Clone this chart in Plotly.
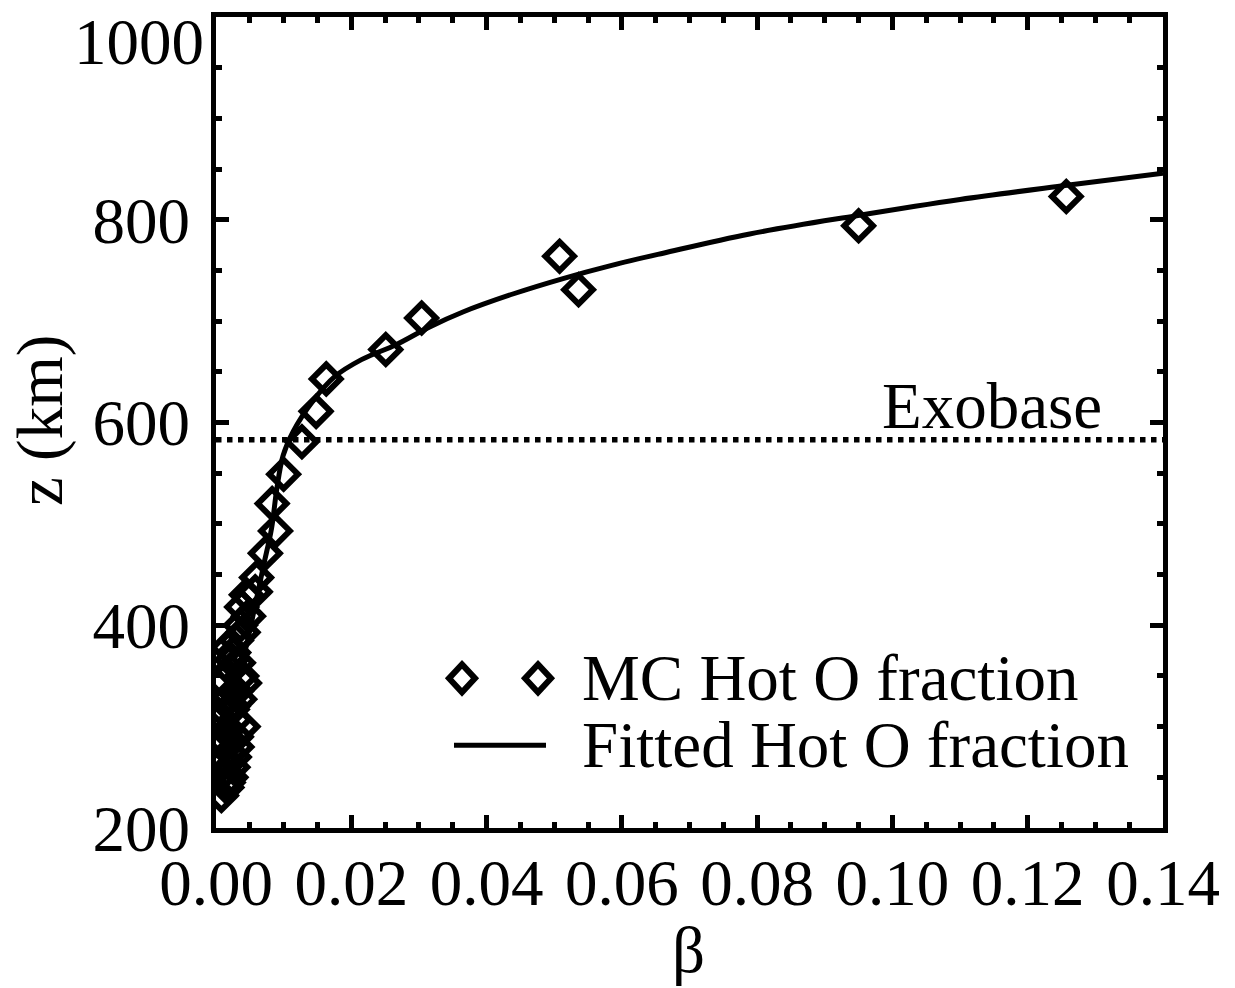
import plotly.graph_objects as go

# ---------------- data ----------------
MC_BETA = [0.0008, 0.0016, 0.0022, 0.0012, 0.0025, 0.0010, 0.0027, 0.0031, 0.0012, 0.0030,
           0.0040, 0.0028, 0.0005, 0.0013, 0.0025, 0.0035, 0.0030, 0.0042, 0.0010, 0.0038,
           0.0021, 0.0023, 0.0026, 0.0030, 0.0040, 0.0036, 0.0048, 0.0038, 0.0045, 0.0058,
           0.0060, 0.0073, 0.0088, 0.0083, 0.0100, 0.0127, 0.0148, 0.0163, 0.0251, 0.0304,
           0.0536, 0.0508, 0.0950, 0.1257,
           0.0018, 0.0020, 0.0015, 0.0024, 0.0019, 0.0033, 0.0017]
MC_Z = [232, 240, 250, 255, 260, 265, 270, 280, 285, 290,
        300, 307, 310, 314, 320, 327, 335, 343, 345, 350,
        356, 366, 373, 385, 393, 400, 409, 418, 430, 433,
        447, 471, 493, 520, 549, 581, 611, 643, 672, 703,
        731, 764, 794, 823,
        245, 275, 295, 317, 330, 363, 378]

FIT_BETA = [0.0010, 0.0014, 0.0020, 0.0030, 0.0045, 0.0058, 0.0070, 0.0082, 0.0090, 0.0099,
            0.0114, 0.0143, 0.0175, 0.0215, 0.0267, 0.0315, 0.0365, 0.0440, 0.0513, 0.0585,
            0.0661, 0.0789, 0.0947, 0.1100, 0.1258, 0.1400]
FIT_Z = [232, 260, 300, 340, 380, 420, 458, 495, 535, 567,
         591, 621, 645, 662, 677, 694, 709, 727, 742, 755,
         767, 786, 804, 820, 834, 846]

EXOBASE_Z = 583
X_RANGE = [0.0, 0.14]
Y_RANGE = [200, 1000]
X_TICKS = [0.00, 0.02, 0.04, 0.06, 0.08, 0.10, 0.12, 0.14]
X_TICKTEXT = ["0.00", "0.02", "0.04", "0.06", "0.08", "0.10", "0.12", "0.14"]
Y_TICKS = [200, 400, 600, 800, 1000]
Y_TICKTEXT = ["200", "400", "600", "800", "1000"]

LEGEND_LABELS = ["MC Hot O fraction", "Fitted Hot O fraction"]

# ---------------- figure ----------------
FONT = "Liberation Serif"
FS = 65
W, H = 1235, 988
ML, MR, MT, MB = 216, 72, 15, 160
PW, PH = W - ML - MR, H - MT - MB


def px_to_paper(px, py):
    return (px - ML) / PW, (H - MB - py) / PH


fig = go.Figure()

fig.add_trace(go.Scatter(
    x=[X_RANGE[0], X_RANGE[1]], y=[EXOBASE_Z, EXOBASE_Z], mode="lines",
    line=dict(color="black", width=5.5, dash="dot"), showlegend=False, hoverinfo="skip"))

fig.add_trace(go.Scatter(
    x=FIT_BETA, y=FIT_Z, mode="lines",
    line=dict(color="black", width=5, shape="spline", smoothing=1.0),
    name=LEGEND_LABELS[1], showlegend=False))

fig.add_trace(go.Scatter(
    x=MC_BETA, y=MC_Z, mode="markers",
    marker=dict(symbol="diamond-open", size=22, color="black", line=dict(width=6, color="black")),
    name=LEGEND_LABELS[0], showlegend=False))

axis_common = dict(
    showline=True, linecolor="black", linewidth=5, mirror="allticks",
    ticks="inside", tickcolor="black", tickwidth=5, ticklen=13,
    showgrid=False, zeroline=False,
    tickfont=dict(family=FONT, size=FS, color="black"),
)

# the top y label sits below its tick in the reference; draw it as an annotation
y_ticktext_axis = [t if v != Y_RANGE[1] else "" for v, t in zip(Y_TICKS, Y_TICKTEXT)]

fig.update_xaxes(range=X_RANGE, tickmode="array", tickvals=X_TICKS, ticktext=X_TICKTEXT,
                 minor=dict(dtick=0.005, ticks="inside", ticklen=6, tickwidth=5, tickcolor="black"),
                 ticklabelstandoff=-6,
                 **axis_common)
fig.update_yaxes(range=Y_RANGE, tickmode="array", tickvals=Y_TICKS, ticktext=y_ticktext_axis,
                 minor=dict(dtick=50, ticks="inside", ticklen=6, tickwidth=5, tickcolor="black"),
                 ticklabelstandoff=8,
                 **axis_common)

annotations = []
tx, ty = px_to_paper(206, 40)
annotations.append(dict(text=Y_TICKTEXT[-1], x=tx, y=ty, xref="paper", yref="paper",
                        xanchor="right", yanchor="middle", showarrow=False,
                        font=dict(family=FONT, size=FS, color="black")))
# axis titles
bx, by = px_to_paper(688, 950)
annotations.append(dict(text="β", x=bx, y=by, xref="paper", yref="paper",
                        xanchor="center", yanchor="middle", showarrow=False,
                        font=dict(family=FONT, size=FS, color="black")))
zx, zy = px_to_paper(40, 420)
annotations.append(dict(text="z (km)", x=zx, y=zy, xref="paper", yref="paper",
                        xanchor="center", yanchor="middle", showarrow=False, textangle=-90,
                        font=dict(family=FONT, size=FS, color="black")))
# exobase label
ex, _ = px_to_paper(992, 0)
annotations.append(dict(text="Exobase", x=ex, y=EXOBASE_Z, xref="paper", yref="y",
                        xanchor="center", yanchor="bottom", showarrow=False, yshift=-4,
                        font=dict(family=FONT, size=FS, color="black")))
# legend text
for label, py in zip(LEGEND_LABELS, [678, 745]):
    lx, ly = px_to_paper(580, py)
    annotations.append(dict(text=label, x=lx, y=ly, xref="paper", yref="paper",
                            xanchor="left", yanchor="middle", showarrow=False,
                            font=dict(family=FONT, size=FS, color="black")))

shapes = []
# legend keys: two diamonds and a line
for cx in [462, 538]:
    ax_, ay_ = px_to_paper(cx, 678)
    shapes.append(dict(type="path", xref="paper", yref="paper", xsizemode="pixel", ysizemode="pixel",
                       xanchor=ax_, yanchor=ay_, path="M 0,14 L 13,0 L 0,-14 L -13,0 Z",
                       line=dict(color="black", width=6), fillcolor="rgba(0,0,0,0)"))
x0, y0 = px_to_paper(454, 745)
x1, _ = px_to_paper(546, 745)
shapes.append(dict(type="line", xref="paper", yref="paper", x0=x0, x1=x1, y0=y0, y1=y0,
                   line=dict(color="black", width=5)))

fig.update_layout(
    width=W, height=H,
    margin=dict(l=ML, r=MR, t=MT, b=MB, pad=0),
    paper_bgcolor="white", plot_bgcolor="white",
    showlegend=False,
    annotations=annotations,
    shapes=shapes,
)

fig.write_html("out.html")
